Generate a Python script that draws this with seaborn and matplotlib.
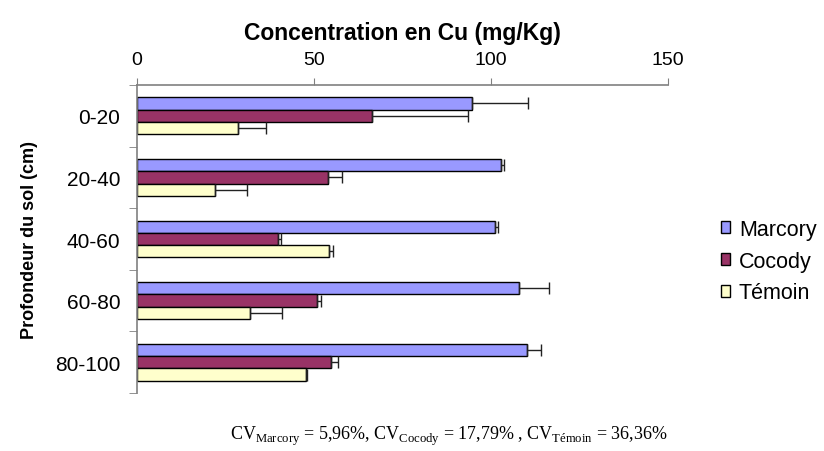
import pandas as pd
import numpy as np
import matplotlib
matplotlib.use("Agg")
import matplotlib.pyplot as plt
import seaborn as sns
from matplotlib.ticker import FixedLocator

depths = ['0-20', '20-40', '40-60', '60-80', '80-100']
sites = ['Marcory', 'Cocody', 'Témoin']
colors = ['#9999FF', '#993366', '#FFFFCC']

marcory = [94.7, 102.7, 101.1, 108.0, 110.1]
cocody = [66.3, 53.9, 39.7, 50.9, 54.8]
temoin = [28.6, 22.0, 54.3, 31.9, 47.7]

marcory_err = [15.8, 1.0, 1.0, 8.5, 4.0]
cocody_err = [27.3, 3.9, 1.1, 1.2, 2.1]
temoin_err = [7.8, 9.0, 1.0, 9.1, 0.3]

values = {'Marcory': marcory, 'Cocody': cocody, 'Témoin': temoin}
errors = {'Marcory': marcory_err, 'Cocody': cocody_err, 'Témoin': temoin_err}

rows = []
for s in sites:
    for d, v in zip(depths, values[s]):
        rows.append({'Profondeur': d, 'Site': s, 'Cu': v})
df = pd.DataFrame(rows)

sns.set_style('white')
plt.rcParams['font.family'] = ['Liberation Sans', 'DejaVu Sans']
plt.rcParams['mathtext.fontset'] = 'custom'
plt.rcParams['mathtext.rm'] = 'Liberation Serif'
plt.rcParams['text.color'] = 'black'
plt.rcParams['axes.labelcolor'] = 'black'
plt.rcParams['xtick.labelcolor'] = 'black'
plt.rcParams['ytick.labelcolor'] = 'black'

fig = plt.figure(figsize=(8.24, 4.52), dpi=100)
ax = fig.add_axes([0.1663, 0.1283, 0.6444, 0.6814])

sns.barplot(data=df, x='Cu', y='Profondeur', hue='Site', order=depths,
            hue_order=sites, palette=colors, orient='h', errorbar=None,
            width=0.6, edgecolor='black', linewidth=1.0, saturation=1, ax=ax)

# barres d'erreur (côté positif seulement)
for cont, s in zip(ax.containers, sites):
    ys = [b.get_y() + b.get_height() / 2 for b in cont]
    xs = [b.get_width() for b in cont]
    ax.errorbar(xs, ys, xerr=[np.zeros(len(xs)), errors[s]], fmt='none',
                ecolor='#222222', elinewidth=1.0, capsize=4, capthick=1.0)

ax.set_xlim(0, 150)
ax.set_ylim(len(depths) - 0.5, -0.5)
ax.set_xticks([0, 50, 100, 150])
ax.xaxis.tick_top()
ax.xaxis.set_label_position('top')
ax.tick_params(axis='x', direction='out', length=5, color='#808080', labelsize=14, pad=7)
ax.set_xlabel('Concentration en Cu (mg/Kg)', fontsize=16.5, fontweight='bold', labelpad=9)

ax.yaxis.set_minor_locator(FixedLocator(np.arange(-0.5, len(depths), 1.0)))
ax.tick_params(axis='y', which='major', length=0, labelsize=15, pad=12)
ax.tick_params(axis='y', which='minor', direction='out', length=6, color='#808080', left=True)
ax.set_ylabel('Profondeur du sol (cm)', fontsize=13, fontweight='bold', labelpad=12)

for side in ['right', 'bottom']:
    ax.spines[side].set_visible(False)
for side in ['top', 'left']:
    ax.spines[side].set_color('#808080')
    ax.spines[side].set_linewidth(1.2)

ax.legend(loc='center left', bbox_to_anchor=(0.864, 0.42), bbox_transform=fig.transFigure,
          frameon=False, fontsize=15.5, handlelength=0.45, handleheight=0.45,
          handletextpad=0.4, labelspacing=0.5, borderaxespad=0)

fig.text(0.545, 0.035,
         r'CV$_{\mathrm{Marcory}}$ = 5,96%, CV$_{\mathrm{Cocody}}$ = 17,79% , CV$_{\mathrm{Témoin}}$ = 36,36%',
         ha='center', va='center', fontsize=13, family='Liberation Serif')

fig.savefig('out.png', dpi=100)
